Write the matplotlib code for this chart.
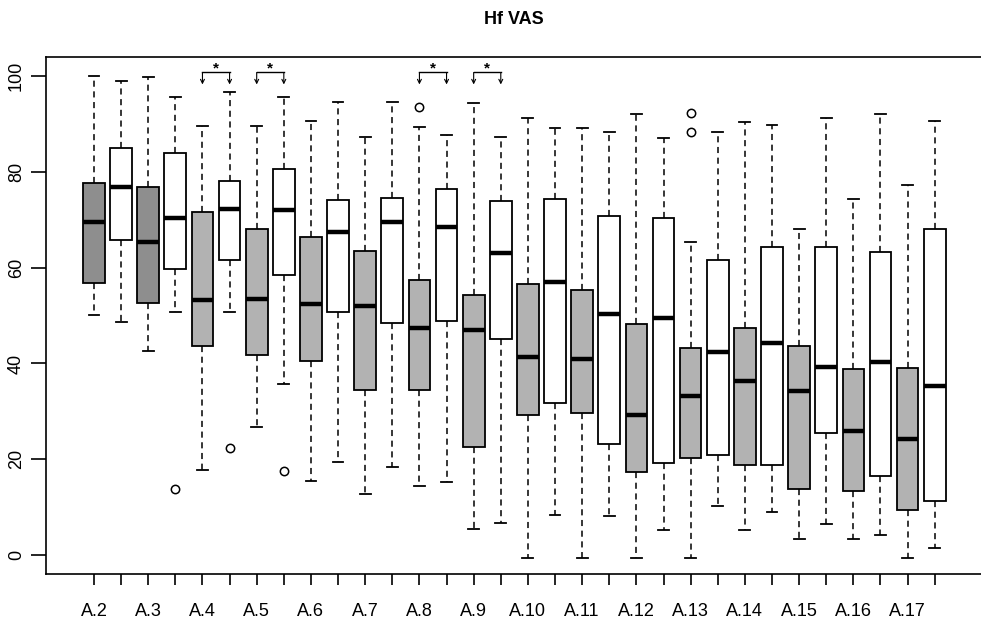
import matplotlib
matplotlib.use("Agg")
import matplotlib.pyplot as plt

plt.rcParams['font.family'] = ['Liberation Sans', 'DejaVu Sans']

# ---- data ----
categories = ["A.2", "A.3", "A.4", "A.5", "A.6", "A.7", "A.8", "A.9",
              "A.10", "A.11", "A.12", "A.13", "A.14", "A.15", "A.16", "A.17"]

# 32 boxes: odd = gray (first group), even = white (second group)
whishi = [100.0, 99.0, 99.9, 95.7, 89.7, 96.7, 89.7, 95.6,
          90.6, 94.6, 87.3, 94.6, 89.4, 87.7, 94.4, 87.3,
          91.2, 89.3, 89.3, 88.4, 92.1, 87.1, 65.3, 88.4,
          90.4, 89.8, 68.1, 91.2, 74.3, 92.2, 77.2, 90.7]
q3 = [77.8, 85.0, 76.8, 83.9, 71.7, 78.1, 68.1, 80.7,
      66.5, 74.1, 63.5, 74.6, 57.4, 76.4, 54.4, 73.9,
      56.7, 74.3, 55.3, 70.8, 48.2, 70.3, 43.3, 61.7,
      47.5, 64.4, 43.6, 64.4, 38.8, 63.2, 39.1, 68.1]
med = [69.5, 76.9, 65.4, 70.4, 53.2, 72.2, 53.4, 72.0,
       52.5, 67.5, 52.1, 69.6, 47.5, 68.5, 47.0, 63.1,
       41.4, 57.1, 40.9, 50.4, 29.2, 49.4, 33.2, 42.3,
       36.3, 44.2, 34.2, 39.2, 25.9, 40.4, 24.2, 35.3]
q1 = [56.9, 65.8, 52.7, 59.8, 43.7, 61.6, 41.7, 58.5,
      40.6, 50.8, 34.4, 48.4, 34.4, 48.9, 22.5, 45.2,
      29.3, 31.8, 29.6, 23.2, 17.3, 19.1, 20.2, 20.9,
      18.8, 18.8, 13.8, 25.4, 13.4, 16.4, 9.3, 11.3]
whislo = [50.1, 48.7, 42.7, 50.8, 17.7, 50.8, 26.7, 35.6,
          15.4, 19.5, 12.7, 18.4, 14.4, 15.3, 5.4, 6.6,
          -0.6, 8.4, -0.7, 8.2, -0.7, 5.2, -0.7, 10.2,
          5.2, 8.9, 3.3, 6.5, 3.3, 4.2, -0.7, 1.4]
outliers = {4: [13.8], 6: [22.3], 8: [17.6], 13: [93.5], 23: [92.3, 88.4]}

# significance brackets between box pairs (1-based positions)
sig_pairs = [(5, 6), (7, 8), (13, 14), (15, 16)]

gray_dark = "#8e8e8e"
gray_light = "#b2b2b2"

fig = plt.figure(figsize=(9.81, 6.21), dpi=100)
ax = fig.add_axes([45.7 / 981, 1 - 574 / 621, (983 - 45.7) / 981, (574 - 56.7) / 621])

n = len(med)
stats = []
for i in range(n):
    stats.append(dict(med=med[i], q1=q1[i], q3=q3[i], whislo=whislo[i],
                      whishi=whishi[i], fliers=outliers.get(i + 1, [])))
positions = list(range(1, n + 1))

bp = ax.bxp(stats, positions=positions, widths=0.8, patch_artist=True,
            boxprops=dict(linewidth=1.3, edgecolor="black"),
            medianprops=dict(color="black", linewidth=3.2, solid_capstyle="butt"),
            whiskerprops=dict(color="black", linewidth=1.1, linestyle=(0, (4, 3))),
            capprops=dict(color="black", linewidth=1.3),
            capwidths=0.4,
            flierprops=dict(marker="o", markerfacecolor="none", markeredgecolor="black",
                            markersize=6, markeredgewidth=1.1))
for i, box in enumerate(bp["boxes"]):
    if i % 2 == 0:
        box.set_facecolor(gray_dark if i < 4 else gray_light)
    else:
        box.set_facecolor("white")

# significance brackets
for a, b in sig_pairs:
    y_line = 100.8
    ax.plot([a, b], [y_line, y_line], color="black", lw=1.0)
    for p in (a, b):
        ax.annotate("", xy=(p, 98.3), xytext=(p, y_line),
                    arrowprops=dict(arrowstyle="->", lw=0.8, color="black",
                                    shrinkA=0, shrinkB=0, mutation_scale=7))
    ax.text((a + b) / 2, y_line - 0.6, "*", ha="center", va="bottom", fontsize=11,
            fontweight="bold")

ax.set_xlim(-0.78, 33.78)
ax.set_ylim(-4.0, 104.1)
ax.set_xticks(positions)
ax.set_xticklabels([categories[i // 2] if i % 2 == 0 else "" for i in range(n)])
ax.set_yticks([0, 20, 40, 60, 80, 100])
ax.set_yticklabels(["0", "20", "40", "60", "80", "100"], rotation=90, va="center")
ax.tick_params(axis="x", length=8, width=1.2, pad=13, labelsize=13)
ax.tick_params(axis="y", length=11, width=1.2, pad=4, labelsize=13)
ax.spines["right"].set_visible(False)
for s in ("left", "top", "bottom"):
    ax.spines[s].set_linewidth(1.2)

fig.text(514 / 981, 1 - 20 / 621, "Hf VAS", ha="center", va="center",
         fontsize=13, fontweight="bold")

fig.savefig("out.png", dpi=100)
